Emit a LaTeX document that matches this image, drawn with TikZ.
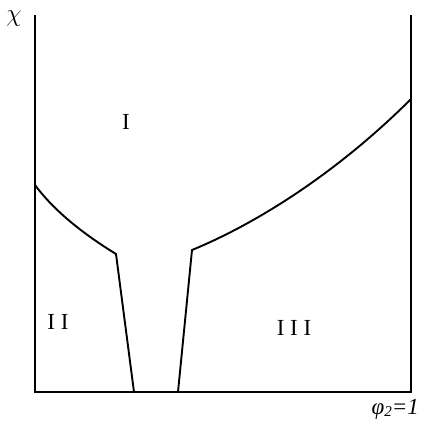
\documentclass[tikz,border=0pt]{standalone}
\usepackage{fontspec}
\setmainfont{Liberation Serif}
\begin{document}
\begin{tikzpicture}[x=1pt,y=-1pt,
  bd/.style={line width=1.9pt,line join=miter},
  lbl/.style={inner sep=0pt,font=\fontsize{23}{25}\selectfont}]
\useasboundingbox (0,0) rectangle (434,434);
\coordinate (tl) at (35,15);
\coordinate (bl) at (35,392);
\coordinate (br) at (411,392);
\coordinate (tr) at (411,15);
\coordinate (a) at (35,185);
\coordinate (b) at (116,254);
\coordinate (c) at (134,392);
\coordinate (d) at (178,392);
\coordinate (e) at (192,250);
\coordinate (f) at (411,99);
\draw[bd] (tl) -- (bl) -- (br) -- (tr);
\draw[bd] (a) .. controls (55,212) and (85,235) .. (b) -- (c);
\draw[bd] (d) -- (e) .. controls (260,222) and (340,170) .. (f);
\node[lbl] (chi) at (14,19) {$\chi$};
\node[lbl] (r1) at (126,122) {I};
\node[lbl] (r2) at (58,322) {I I};
\node[lbl] (r3) at (294,328) {I I I};
\node[lbl,anchor=east] (phi) at (419,409) {\itshape φ\raisebox{-0.25ex}{\fontsize{15}{16}\selectfont 2}=1};
\end{tikzpicture}
\end{document}
